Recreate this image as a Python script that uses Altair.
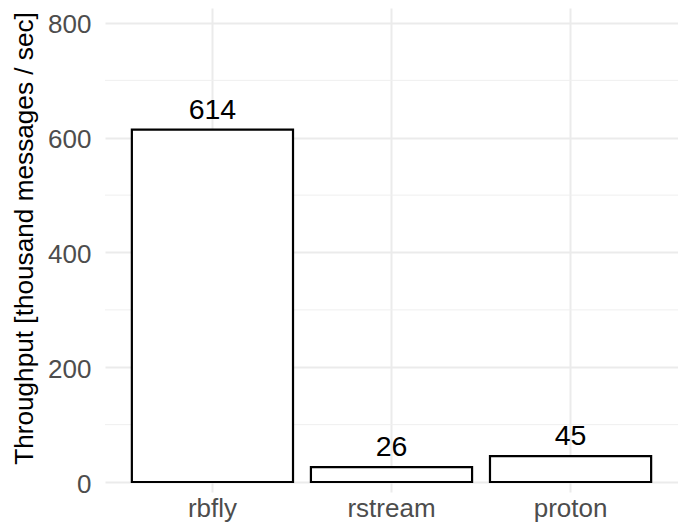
import altair as alt
import pandas as pd

clients = ["rbfly", "rstream", "proton"]
throughput = [614, 26, 45]
y_ticks = [0, 200, 400, 600, 800]
y_minor = [100, 300, 500, 700]
y_title = "Throughput [thousand messages / sec]"

df = pd.DataFrame({"client": clients, "value": throughput})
minor_df = pd.DataFrame({"value": y_minor})

yscale = alt.Scale(domain=[-17.4, 826.1], nice=False, zero=False)
xscale = alt.Scale(paddingInner=0.1, paddingOuter=0.15)

x_axis = alt.Axis(
    title=None, grid=True, gridColor="#EBEBEB", gridWidth=2,
    ticks=False, tickSize=0, domain=False, labelPadding=3.5,
    labelFontSize=26, labelColor="#4D4D4D", labelAngle=0, bandPosition=0.5,
)
y_axis = alt.Axis(
    values=y_ticks, grid=True, gridColor="#EBEBEB", gridWidth=2,
    ticks=False, tickSize=0, domain=False, labelPadding=14,
    labelFontSize=26, labelColor="#4D4D4D", labelOffset=2,
    title=y_title, titleFontSize=26.2, titleColor="black", titleFontWeight="normal",
    titleX=-67, titleY=230, titleBaseline="bottom",
)

minor = alt.Chart(minor_df).mark_rule(color="#EFEFEF", strokeWidth=1).encode(
    y=alt.Y("value:Q", scale=yscale, axis=y_axis)
)

base = alt.Chart(df).encode(
    x=alt.X("client:N", sort=clients, scale=xscale, axis=x_axis),
    y=alt.Y("value:Q", scale=yscale, axis=y_axis),
)

bars = base.mark_bar(fill="white", stroke="black", strokeWidth=2.2)
labels = base.mark_text(baseline="alphabetic", dy=-11, fontSize=28.5, color="black").encode(
    text=alt.Text("value:Q")
)

chart = (
    alt.layer(minor, bars, labels)
    .properties(
        width=573, height=484,
        autosize=alt.AutoSizeParams(type="none"),
        padding={"left": 97, "top": 0, "right": 0, "bottom": 30},
    )
    .configure(font="Liberation Sans")
    .configure_view(strokeWidth=0)
)

chart.save("out.html", embed_options={"renderer": "svg", "actions": False})
